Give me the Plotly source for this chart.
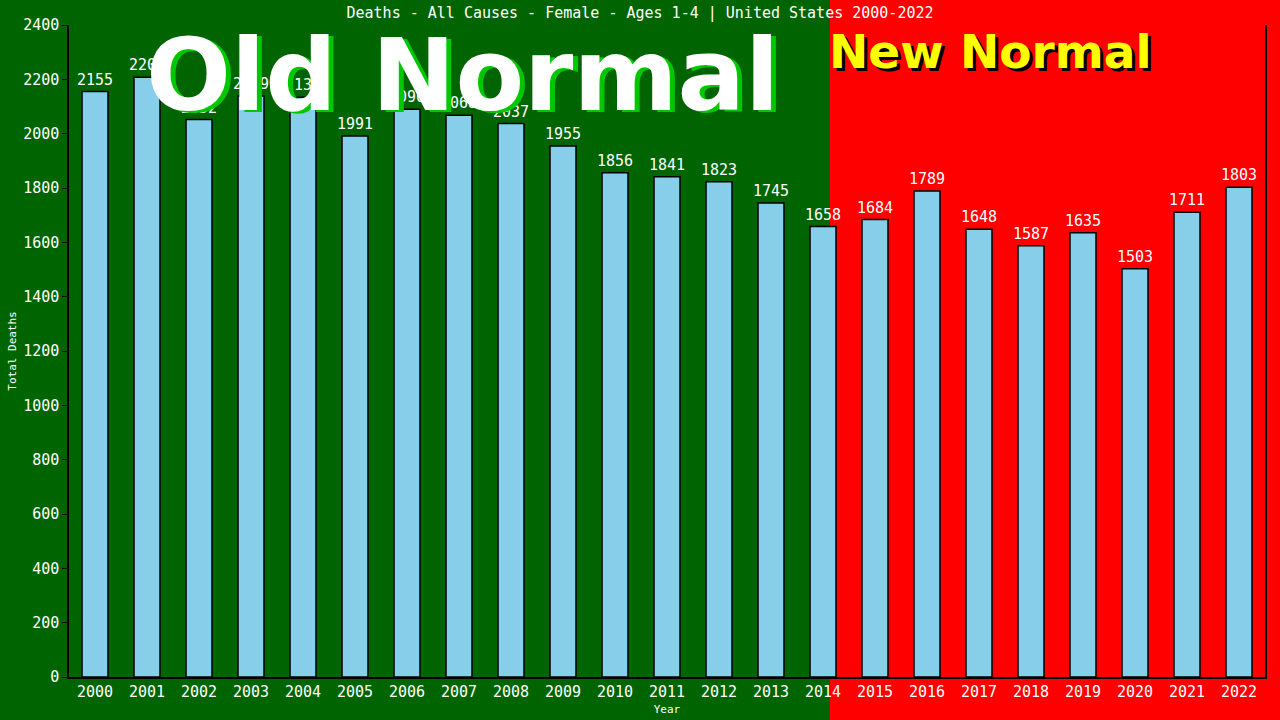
import plotly.graph_objects as go

years = [str(y) for y in range(2000, 2023)]
deaths = [2155, 2208, 2052, 2139, 2134, 1991, 2090, 2068, 2037, 1955, 1856, 1841,
          1823, 1745, 1658, 1684, 1789, 1648, 1587, 1635, 1503, 1711, 1803]
y_ticks = list(range(0, 2401, 200))

chart_title = "Deaths - All Causes - Female - Ages 1-4 | United States 2000-2022"
mono = "DejaVu Sans Mono"


def px_x(px):
    # page pixel -> paper x
    return (px - 69) / 1196


def px_y(py):
    # page pixel -> paper y
    return (677 - py) / 652


fig = go.Figure()

fig.add_trace(go.Bar(x=years,
                     y=deaths,
                     width=0.5,
                     marker={'color': '#87ceeb', 'line': {'color': 'black', 'width': 1.5}},
                     text=[str(d) for d in deaths],
                     textposition='outside',
                     constraintext='none',
                     cliponaxis=False,
                     textfont={'family': mono, 'size': 15, 'color': 'white'},
                     hovertemplate="%{x}: %{y}<extra></extra>"
                     ))

# red "new normal" background on the right part of the page
fig.add_shape(type='rect', xref='paper', yref='paper',
              x0=px_x(830), x1=px_x(1300), y0=px_y(740), y1=px_y(-20),
              fillcolor='#ff0000', line_width=0, layer='below')

# big labels with a drop shadow
for txt, cx, cy, size, col, shadow, dx, dy in [("Old Normal", 462, 75, 100, 'white', '#00c800', 5, 3),
                                              ("New Normal", 990, 52, 47, '#ffff00', 'black', 3, 3)]:
    fig.add_annotation(text="<b>%s</b>" % txt, xref='paper', yref='paper',
                       x=px_x(cx + dx), y=px_y(cy + dy), xanchor='center', yanchor='middle',
                       showarrow=False, font={'family': 'DejaVu Sans', 'size': size, 'color': shadow})
    fig.add_annotation(text="<b>%s</b>" % txt, xref='paper', yref='paper',
                       x=px_x(cx), y=px_y(cy), xanchor='center', yanchor='middle',
                       showarrow=False, font={'family': 'DejaVu Sans', 'size': size, 'color': col})

fig.update_layout(width=1280,
                  height=720,
                  margin={'l': 69, 'r': 15, 't': 25, 'b': 43, 'autoexpand': False},
                  paper_bgcolor='#006400',
                  plot_bgcolor='rgba(0,0,0,0)',
                  showlegend=False,
                  font={'family': mono, 'color': 'white', 'size': 15},
                  title={'text': chart_title, 'x': 0.5, 'xanchor': 'center',
                         'y': 1 - 13 / 720, 'yanchor': 'middle',
                         'font': {'family': mono, 'size': 15, 'color': 'white'}},
                  xaxis={'type': 'category', 'showgrid': False, 'zeroline': False,
                         'showline': True, 'linecolor': 'black', 'linewidth': 1.5,
                         'ticks': '', 'automargin': False,
                         'tickfont': {'family': mono, 'size': 15, 'color': 'white'},
                         'title': {'text': 'Year', 'standoff': 6,
                                   'font': {'family': mono, 'size': 11, 'color': 'white'}}},
                  yaxis={'range': [0, 2400], 'tickvals': y_ticks, 'showgrid': False,
                         'zeroline': False, 'showline': True, 'mirror': True,
                         'linecolor': 'black', 'linewidth': 1.5, 'automargin': False,
                         'ticks': 'outside', 'ticklen': 5, 'tickcolor': 'black',
                         'tickfont': {'family': mono, 'size': 15, 'color': 'white'},
                         'title': {'text': 'Total Deaths', 'standoff': 4,
                                   'font': {'family': mono, 'size': 11, 'color': 'white'}}}
                  )

# drop the default page margin so the figure sits at the window corner
fig.write_html("out.html",
               config={'displayModeBar': False},
               post_script="document.body.style.margin='0';document.body.style.overflow='hidden';")
